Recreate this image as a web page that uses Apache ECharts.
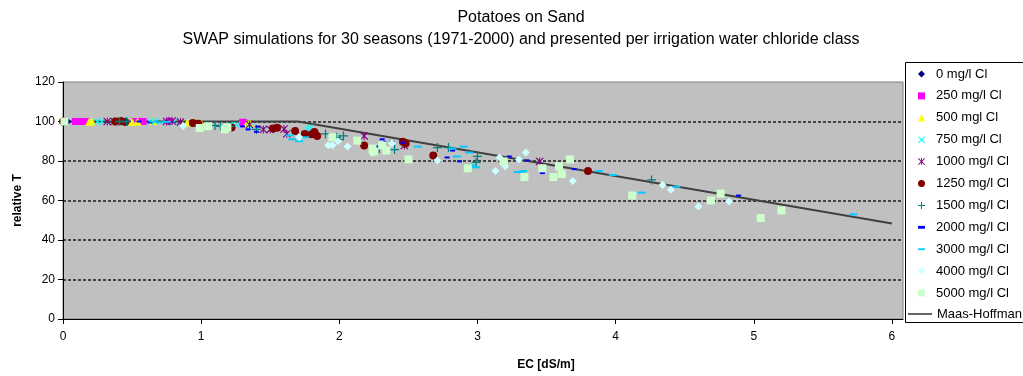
<!DOCTYPE html>
<html>
<head>
<meta charset="utf-8">
<title>Potatoes on Sand</title>
<script src="https://cdn.jsdelivr.net/npm/echarts@6/dist/echarts.min.js"></script>
<style>
  html, body { margin: 0; padding: 0; background: #fff; }
  #chart { width: 1023px; height: 376px; }
</style>
</head>
<body>
<div id="chart"></div>
<script>
// Relative transpiration [%] against soil EC [dS/m], one list per chloride class
const cl0    = [[0.00,100],[0.01,100],[0.02,100],[0.00,100.3],[0.03,100]];
const cl250  = [[0.09,100],[0.11,100],[0.13,100],[0.15,100],[0.17,100],[0.52,100],[0.55,100],[0.58,100],[0.77,100.2],[1.30,99.6],[1.31,99.3]];
const cl500  = [[0.19,100],[0.21,100],[0.50,99.8],[0.54,100],[0.65,100.3],[0.90,99.5],[0.95,99.6],[1.00,99.1],[1.33,98.8],[1.35,99.4]];
const cl750  = [[0.25,100],[0.28,100],[0.63,100],[0.67,100.2],[0.80,99.6],[1.21,98],[1.26,98.3],[1.35,97.2],[1.77,96.2],[1.79,96.8]];
const cl1000 = [[0.32,100],[0.37,100],[0.75,100],[0.79,100.2],[0.85,99.8],[1.35,98.5],[1.45,96],[1.50,96],[1.60,96.2],[1.62,93.8],[2.18,92.7],[2.47,87.8],[3.45,79.8]];
const cl1250 = [[0.00,100],[0.38,100],[0.42,100.2],[0.45,99.8],[0.94,99.2],[0.98,98.8],[1.22,97],[1.52,96.5],[1.55,96.8],[1.68,95.2],[1.75,93.7],[1.80,93.5],[1.82,94.7],[1.84,92.7],[2.18,87.8],[2.46,89.7],[2.48,88.8],[2.68,82.8],[3.80,74.9]];
const cl1500 = [[0.41,100],[0.46,100],[1.10,98],[1.14,97.5],[1.21,97.5],[1.40,96],[1.90,93.7],[1.98,92],[2.00,91],[2.03,92.7],[2.29,86.3],[2.40,85.8],[2.71,86.8],[2.79,86.8],[3.00,82.3],[2.99,79.3],[4.26,70.4]];
const cl2000 = [[0.55,100],[0.63,99.5],[1.30,97.5],[1.34,96],[1.40,94.8],[1.41,97.4],[2.27,87.3],[2.31,91],[2.32,89.8],[2.38,89.8],[2.46,89.3],[2.78,81.8],[2.82,85.3],[2.87,79.8],[3.23,82.3],[3.36,80.3],[3.47,73.9],[3.70,75.9],[4.89,62.5]];
const cl3000 = [[0.65,100],[0.70,99.6],[0.75,99.8],[1.64,93],[1.66,91],[1.71,90],[1.75,92],[2.57,87.3],[2.82,86.3],[2.85,82.3],[2.90,87.3],[2.94,84.3],[2.96,77.8],[2.99,76.8],[3.29,74.4],[3.31,74.4],[3.33,74.9],[3.88,74.9],[3.98,72.9],[4.19,64],[4.44,67],[5.72,53]];
const cl4000 = [[0.87,97.7],[1.71,92],[1.92,88],[1.95,88],[1.99,90],[2.06,87.3],[2.24,84],[2.31,88.5],[2.38,89],[2.71,80.3],[3.13,74.9],[3.16,81.8],[3.20,77.3],[3.30,80.8],[3.35,84.3],[3.69,69.9],[4.34,67.9],[4.40,65.4],[4.60,57],[4.82,59.5]];
const cl5000 = [[0.01,100],[0.99,96.7],[1.05,97.6],[1.17,96],[1.19,97],[1.95,92],[2.13,90.3],[2.24,86.3],[2.25,84.8],[2.31,87.8],[2.34,85.3],[2.50,80.8],[2.93,76.3],[3.19,79.8],[3.34,71.9],[3.47,76.3],[3.55,71.9],[3.59,77.3],[3.61,73.4],[3.67,80.8],[4.12,62.5],[4.69,60],[4.76,63.5],[5.05,51.1],[5.20,55]];

// Maas-Hoffman response: 100 % up to the threshold, then a straight decline
const mhEC = [0, 1.7, 6];
const mhT  = [100, 100, 48.4];

const classNames = ['0 mg/l Cl','250 mg/l Cl','500 mgl Cl','750 mg/l Cl','1000 mg/l Cl','1250 mg/l Cl',
                    '1500 mg/l Cl','2000 mg/l Cl','3000 mg/l Cl','4000 mg/l Cl','5000 mg/l Cl'];
const lineName = 'Maas-Hoffman';
const xTicks = [0, 1, 2, 3, 4, 5, 6];

const FONT = "'Liberation Sans', Arial, sans-serif";

// marker shapes
const CROSS = 'path://M0,1L1,0L5,4L9,0L10,1L6,5L10,9L9,10L5,6L1,10L0,9L4,5Z';
const STAR  = 'path://M0,1L1,0L5,4L9,0L10,1L6,5L10,9L9,10L5,6L1,10L0,9L4,5Z M4.4,0L5.6,0L5.6,10L4.4,10Z';
const PLUS  = 'path://M4.3,0H5.7V4.3H10V5.7H5.7V10H4.3V5.7H0V4.3H4.3Z';
const DASH_S = 'path://M0,0H5V2H0Z';
const DASH_L = 'path://M0,0H8V2H0Z';
const LINE_ICON = 'path://M0,0H24V1.2H0Z';

const styles = [
  { data: cl0,    symbol: 'diamond',  size: 8, color: '#000080' },
  { data: cl250,  symbol: 'rect',     size: 7, color: '#ff00ff' },
  { data: cl500,  symbol: 'triangle', size: 8, color: '#ffff00' },
  { data: cl750,  symbol: CROSS,      size: 7, color: '#00ffff' },
  { data: cl1000, symbol: STAR,       size: 8, color: '#800080' },
  { data: cl1250, symbol: 'circle',   size: 8, color: '#800000' },
  { data: cl1500, symbol: PLUS,       size: 9, color: '#008080' },
  { data: cl2000, symbol: DASH_S,     size: 5, color: '#0000ff' },
  { data: cl3000, symbol: DASH_L,     size: 8, color: '#00ccff' },
  { data: cl4000, symbol: 'diamond',  size: 8, color: '#ccffff' },
  { data: cl5000, symbol: 'rect',     size: 8, color: '#ccffcc' }
];

const series = [{
  name: lineName,
  type: 'line',
  data: mhEC.map((x, i) => [x, mhT[i]]),
  symbol: 'none',
  itemStyle: { color: '#404040' },
  lineStyle: { color: '#404040', width: 2 },
  z: 2
}];
styles.forEach((s, i) => {
  series.push({
    name: classNames[i],
    type: 'scatter',
    data: s.data,
    symbol: s.symbol,
    symbolSize: s.size,
    symbolKeepAspect: true,
    itemStyle: { color: s.color, opacity: 1 },
    z: 3
  });
});

const legendText = { fontFamily: FONT, fontSize: 13, color: '#000', lineHeight: 14 };

const option = {
  animation: false,
  backgroundColor: '#ffffff',
  textStyle: { fontFamily: FONT },
  title: {
    text: 'Potatoes on Sand',
    subtext: 'SWAP simulations for 30 seasons (1971-2000) and presented per irrigation water chloride class',
    left: 521,
    top: 9,
    padding: 0,
    textAlign: 'center',
    itemGap: 5,
    textStyle: { fontFamily: FONT, fontSize: 16, fontWeight: 'normal', color: '#000', lineHeight: 17 },
    subtextStyle: { fontFamily: FONT, fontSize: 16, color: '#000', lineHeight: 17 }
  },
  graphic: [{
    type: 'rect',
    shape: { x: 905.5, y: 62.5, width: 200, height: 260 },
    style: { fill: '#ffffff', stroke: '#000000', lineWidth: 1 },
    z: 0
  }],
  legend: [{
    orient: 'vertical',
    left: 918,
    top: 67,
    padding: 0,
    itemWidth: 7,
    itemHeight: 7,
    itemGap: 7.9,
    symbolKeepAspect: true,
    data: classNames.map((n, i) => ({ name: n, icon: styles[i].symbol })),
    textStyle: Object.assign({ padding: [0, 0, 0, 6] }, legendText)
  }, {
    orient: 'vertical',
    left: 908,
    top: 307,
    padding: 0,
    itemWidth: 24,
    itemHeight: 14,
    symbolKeepAspect: true,
    data: [{ name: lineName, icon: LINE_ICON }],
    itemStyle: { color: '#000' },
    lineStyle: { color: '#000', width: 1 },
    textStyle: legendText
  }],
  grid: {
    left: 63, right: 120, top: 82, bottom: 52,
    show: true,
    backgroundColor: '#c0c0c0',
    borderColor: '#808080',
    borderWidth: 1
  },
  xAxis: {
    type: 'value',
    min: 0, max: 6.08, interval: 1,
    name: 'EC [dS/m]',
    nameLocation: 'middle',
    nameGap: 40,
    nameTextStyle: { fontFamily: FONT, fontSize: 12, fontWeight: 'bold', color: '#000', padding: [0, 0, 0, 126] },
    axisLine: { show: true, lineStyle: { color: '#000', width: 1 } },
    axisTick: { show: true, length: 5, customValues: xTicks, lineStyle: { color: '#000' } },
    axisLabel: { customValues: xTicks, color: '#000', fontSize: 12, margin: 12, fontFamily: FONT },
    splitLine: { show: false }
  },
  yAxis: {
    type: 'value',
    min: 0, max: 120, interval: 20,
    name: 'relative T',
    nameLocation: 'middle',
    nameGap: 39,
    nameTextStyle: { fontFamily: FONT, fontSize: 12, fontWeight: 'bold', color: '#000' },
    axisLine: { show: true, lineStyle: { color: '#000', width: 1 } },
    axisTick: { show: true, length: 5, lineStyle: { color: '#000' } },
    axisLabel: { color: '#000', fontSize: 12, margin: 8, fontFamily: FONT },
    splitLine: { show: true, showMinLine: false, showMaxLine: false,
                 lineStyle: { color: '#444444', width: 2, type: [3, 2] } }
  },
  series: series
};

const chart = echarts.init(document.getElementById('chart'), null, { renderer: 'canvas' });
chart.setOption(option);
</script>
</body>
</html>
